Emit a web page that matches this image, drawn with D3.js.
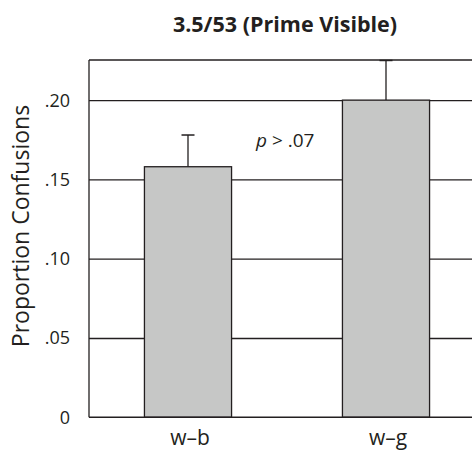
<!DOCTYPE html>
<html><head><meta charset="utf-8">
<script src="https://cdn.jsdelivr.net/npm/d3@7"></script>
<style>html,body{margin:0;padding:0;background:#fff;}svg{display:block;}</style>
</head><body>
<script>
const categories = ["w–b", "w–g"];
const values = [0.158, 0.200];
const errors = [0.020, 0.025];
const yTicks = [0, 0.05, 0.10, 0.15, 0.20];
const yTickLabels = ["0", ".05", ".10", ".15", ".20"];
const title = "3.5/53 (Prime Visible)";
const yTitle = "Proportion Confusions";
const note = "> .07";

const W = 472, H = 451;
const svg = d3.select("body").append("svg").attr("width", W).attr("height", H);
const font = "'Open Sans', 'Noto Sans', sans-serif";
const x0 = 89, x1 = 485, yTop = 60, yBase = 417.3;
const yMax = 0.2253;
const y = d3.scaleLinear().domain([0, yMax]).range([yBase, yTop]);
const x = d3.scaleBand().domain(categories).range([x0, x1]).paddingInner(0.56).paddingOuter(0.28);
const ink = "#231f20";

// gridlines
const yAxis = d3.axisLeft(y).tickValues(yTicks.slice(1)).tickSize(-(W - x0)).tickFormat("");
const g = svg.append("g").attr("transform", `translate(${x0},0)`).call(yAxis);
g.select(".domain").remove();
g.selectAll(".tick line").attr("stroke", ink).attr("stroke-width", 1.3);

// tick labels
svg.append("g").selectAll("text").data(yTicks).join("text")
  .attr("x", 70).attr("y", d => y(d)).attr("dy", "0.36em")
  .attr("text-anchor", "end").attr("font-family", font).attr("font-size", 18).attr("fill", ink)
  .text((d, i) => yTickLabels[i]);

// frame: top and left
svg.append("line").attr("x1", x0).attr("x2", W).attr("y1", y(yMax)).attr("y2", y(yMax)).attr("stroke", ink).attr("stroke-width", 1.3);
svg.append("line").attr("x1", x0).attr("x2", x0).attr("y1", y(yMax)).attr("y2", y(0)).attr("stroke", ink).attr("stroke-width", 1.3);

// error bars
const eb = svg.append("g");
categories.forEach((c, i) => {
  const cx = x(c) + x.bandwidth() / 2;
  eb.append("line").attr("x1", cx).attr("x2", cx).attr("y1", y(values[i])).attr("y2", y(values[i] + errors[i])).attr("stroke", ink).attr("stroke-width", 1.3);
  eb.append("line").attr("x1", cx - 6.5).attr("x2", cx + 6.5).attr("y1", y(values[i] + errors[i])).attr("y2", y(values[i] + errors[i])).attr("stroke", ink).attr("stroke-width", 1.5);
});

// bars
svg.append("g").selectAll("rect").data(categories).join("rect")
  .attr("x", d => x(d)).attr("width", x.bandwidth())
  .attr("y", (d, i) => y(values[i])).attr("height", (d, i) => y(0) - y(values[i]))
  .attr("fill", "#c6c7c6").attr("stroke", ink).attr("stroke-width", 1.3);

// baseline
svg.append("line").attr("x1", x0).attr("x2", W).attr("y1", y(0)).attr("y2", y(0)).attr("stroke", ink).attr("stroke-width", 1.5);

// x labels
svg.append("g").selectAll("text").data(categories).join("text")
  .attr("x", d => x(d) + x.bandwidth() / 2 + 2).attr("y", 445)
  .attr("text-anchor", "middle").attr("font-family", font).attr("font-size", 21).attr("fill", ink)
  .text(d => d);

// title
svg.append("text").attr("x", 285).attr("y", 31.5).attr("text-anchor", "middle")
  .attr("font-family", font).attr("font-weight", "bold").attr("font-size", 21.5).attr("fill", ink).text(title);

// y title
svg.append("text").attr("transform", "translate(28.5,226) rotate(-90)").attr("text-anchor", "middle")
  .attr("font-family", font).attr("font-size", 23).attr("fill", ink).text(yTitle);

// p note
const t = svg.append("text").attr("x", 256).attr("y", 146.5).attr("font-family", font).attr("font-size", 19).attr("fill", ink);
t.append("tspan").attr("font-style", "italic").text("p");
t.append("tspan").text(" " + note);
</script>
</body></html>
